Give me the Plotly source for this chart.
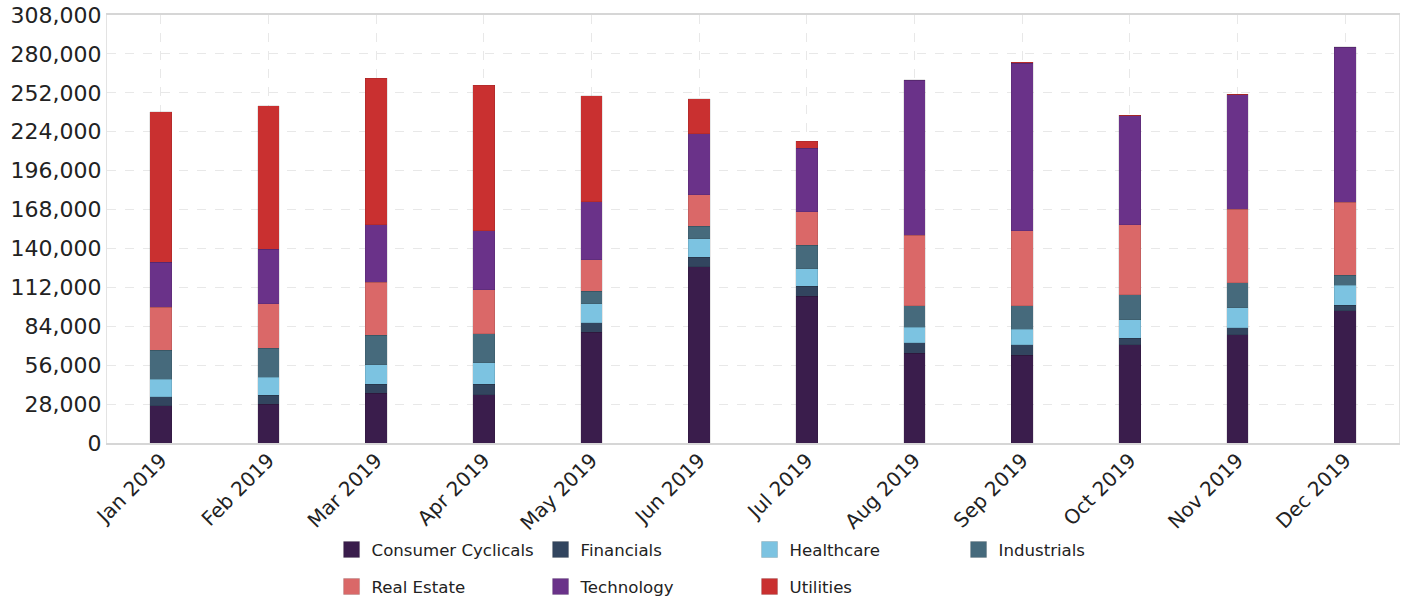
import plotly.graph_objects as go

months = ["Jan 2019", "Feb 2019", "Mar 2019", "Apr 2019", "May 2019", "Jun 2019",
          "Jul 2019", "Aug 2019", "Sep 2019", "Oct 2019", "Nov 2019", "Dec 2019"]

consumer_cyclicals = [26800, 27760, 35660, 34700, 79690, 126830, 105770, 64610, 63180, 70590, 77770, 95000]
financials         = [6460, 6460, 6700, 7420, 6700, 6940, 7180, 7660, 7660, 4790, 5270, 4310]
healthcare         = [12690, 13160, 14110, 15550, 13880, 13160, 12440, 11010, 11010, 13400, 14360, 14120]
industrials        = [20820, 20820, 21060, 21060, 8850, 9090, 16990, 15550, 16990, 17950, 17940, 7420]
real_estate        = [31100, 32070, 38290, 31590, 22730, 22730, 23930, 50730, 54080, 50250, 52890, 52400]
technology         = [32310, 39000, 41400, 42350, 41640, 43790, 45710, 111520, 120370, 78490, 82320, 111520]
utilities          = [108160, 103380, 105440, 104940, 76340, 25360, 5020, 500, 600, 400, 600, 500]

y_ticks = [0, 28000, 56000, 84000, 112000, 140000, 168000, 196000, 224000, 252000, 280000, 308000]

series = [
    ("Consumer Cyclicals", consumer_cyclicals, "#3a1d4c", "legend"),
    ("Financials", financials, "#32455f", "legend"),
    ("Healthcare", healthcare, "#7cc3e1", "legend"),
    ("Industrials", industrials, "#466a7c", "legend"),
    ("Real Estate", real_estate, "#da6868", "legend2"),
    ("Technology", technology, "#6a3289", "legend2"),
    ("Utilities", utilities, "#c93030", "legend2"),
]

fig = go.Figure()
for name, vals, color, leg in series:
    fig.add_trace(go.Bar(
        x=months, y=vals, name=name, legendgroup=name, showlegend=False,
        marker=dict(color=color, line=dict(color="rgba(0,0,0,0.12)", width=0.8)),
    ))
for name, vals, color, leg in series:
    fig.add_trace(go.Scatter(
        x=[None], y=[None], mode="markers", name=name, legendgroup=name,
        legend=leg, showlegend=True,
        marker=dict(symbol="square", size=20, color=color,
                    line=dict(color="rgba(0,0,0,0.12)", width=1)),
    ))

font_family = "DejaVu Sans, Verdana, sans-serif"
leg_common = dict(
    orientation="h", xanchor="left", yanchor="middle",
    font=dict(family=font_family, size=16.6, color="#222222"),
    bgcolor="rgba(0,0,0,0)", entrywidth=164, entrywidthmode="pixels",
    itemsizing="trace", traceorder="normal",
)

fig.update_layout(
    width=1405, height=600,
    margin=dict(l=107, r=6, t=15, b=157, autoexpand=False),
    barmode="stack", bargap=0.796,
    plot_bgcolor="white", paper_bgcolor="white",
    font=dict(family=font_family, size=20, color="#222222"),
    legend=dict(x=0.1738, y=-0.2493, **leg_common),
    legend2=dict(x=0.1738, y=-0.3357, **leg_common),
    xaxis=dict(
        automargin=False,
        tickangle=-45, showgrid=True, gridcolor="#e8e8e8", griddash="dash", gridwidth=1,
        showline=True, linecolor="#d6d6d6", linewidth=1.5, mirror=True,
        ticks="", ticklabelstandoff=-4, tickfont=dict(size=20, family=font_family),
    ),
    yaxis=dict(
        automargin=False,
        range=[0, 308000], tickvals=y_ticks, tickformat=",d",
        showgrid=True, gridcolor="#e8e8e8", griddash="dash", gridwidth=1,
        showline=True, linecolor="#e3e3e3", linewidth=1, mirror=True,
        zeroline=False, ticks="", tickfont=dict(size=22, family=font_family),
    ),
)

fig.write_html("out.html",
               config={"displayModeBar": False},
               post_script="document.body.style.margin='0';document.body.style.overflow='hidden';")
